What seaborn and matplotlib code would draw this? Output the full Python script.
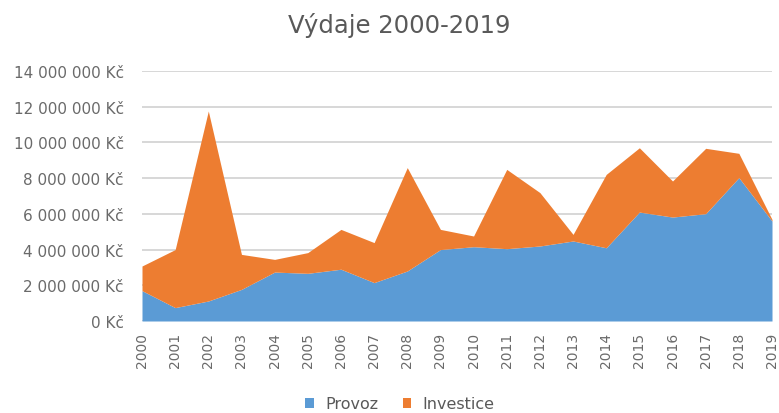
import matplotlib
matplotlib.use("Agg")
import matplotlib.pyplot as plt
import seaborn as sns
import numpy as np
from matplotlib.ticker import FuncFormatter, MultipleLocator

years = [2000, 2001, 2002, 2003, 2004, 2005, 2006, 2007, 2008, 2009,
         2010, 2011, 2012, 2013, 2014, 2015, 2016, 2017, 2018, 2019]
provoz = [1700000, 750000, 1120000, 1770000, 2740000, 2670000, 2900000, 2150000, 2800000, 4000000,
          4160000, 4050000, 4200000, 4480000, 4100000, 6100000, 5820000, 6010000, 8030000, 5600000]
celkem = [3080000, 4000000, 11760000, 3730000, 3450000, 3830000, 5130000, 4390000, 8590000, 5130000,
          4760000, 8490000, 7190000, 4850000, 8210000, 9700000, 7840000, 9670000, 9390000, 5690000]
investice = [c - p for c, p in zip(celkem, provoz)]
series_names = ["Provoz", "Investice"]
title = "Výdaje 2000-2019"

sns.set_theme(style="white")
plt.rcParams['font.family'] = ['DejaVu Sans']

fig = plt.figure(figsize=(7.79, 4.14), dpi=100)
ax = fig.add_axes([142/779, 1 - 322/414, (772-142)/779, (322-72)/414])

colors = ["#5B9BD5", "#ED7D31"]
ax.stackplot(years, provoz, investice, colors=colors, labels=series_names, linewidth=0)

ax.set_xlim(2000, 2019)
ax.set_ylim(0, 14000000)
ax.yaxis.set_major_locator(MultipleLocator(2000000))
ax.yaxis.set_major_formatter(FuncFormatter(lambda v, p: f"{int(v):,}".replace(",", " ") + " Kč"))
ax.set_xticks(years)
ax.set_xticklabels([str(y) for y in years], rotation=90)
ax.tick_params(axis='y', labelsize=11, colors="#6a6a6a", length=0, pad=13)
ax.tick_params(axis='x', labelsize=10, colors="#6a6a6a", length=0, pad=8)
ax.grid(axis='y', color="#D4D4D4", linewidth=1.3)
ax.set_axisbelow(True)
for s in ax.spines.values():
    s.set_visible(False)

fig.text(399/779, 1 - 33/414, title, ha='center', va='baseline',
         fontsize=17.5, color="#595959")

handles, labels = ax.get_legend_handles_labels()
fig.legend(handles, labels, loc='center', bbox_to_anchor=(400/779, 1 - 405/414), ncol=2,
           frameon=False, fontsize=11.5, handlelength=0.55, handleheight=0.55,
           columnspacing=1.5, handletextpad=0.7, labelcolor="#595959",
           borderpad=0, borderaxespad=0)

fig.savefig("out.png", dpi=100)
